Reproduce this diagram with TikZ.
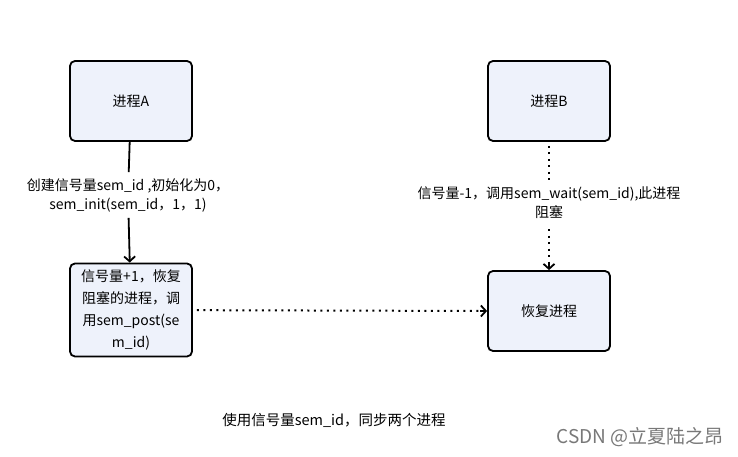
\documentclass[tikz,border=0pt]{standalone}
\usepackage{fontspec}
\setmainfont{Noto Sans CJK SC}
\usepackage{xcolor}
\usepackage{tikz}
\usetikzlibrary{arrows.meta}
\usetikzlibrary{positioning}
\definecolor{boxfill}{RGB}{238,242,251}
\definecolor{mark}{RGB}{120,120,120}
\tikzset{>={Straight Barb[length=5pt,width=11pt]}}
\tikzstyle{proc} = [rectangle, rounded corners=5pt, draw=black, line width=1.8pt, fill=boxfill, align=center, font=\fontsize{14}{22}\selectfont]
\tikzstyle{note} = [draw=none, align=center, inner sep=6pt, font=\fontsize{14}{19}\selectfont]
\tikzstyle{dots} = [line width=2pt, dash pattern=on 2pt off 4.5pt, shorten <=4pt]

\begin{document}
\begin{tikzpicture}[x=1pt, y=1pt]
\useasboundingbox (0,0) rectangle (738,457);
\node [proc, minimum width=122pt, minimum height=80pt] (A) at (131, 356) {进程A};
\node [proc, minimum width=122pt, minimum height=93pt, inner sep=1pt] (C) at (131, 147) {信号量+1，恢复\\阻塞的进程，调\\用sem\_post(se\\m\_id)};
\node [proc, minimum width=122pt, minimum height=80pt] (B) at (549, 356) {进程B};
\node [proc, minimum width=122pt, minimum height=80pt] (D) at (549, 146) {恢复进程};
\node [note] (la) at (128, 262) {创建信号量sem\_id ,初始化为0，\\sem\_init(sem\_id，1，1)};
\node [note] (lb) at (549, 254) {信号量-1，调用sem\_wait(sem\_id),此进程\\阻塞};
\draw [line width=1.8pt] (A) to (la);
\draw [->, line width=1.8pt] (la) to (C);
\draw [dots] (B) to (lb);
\draw [dots] (lb) to ([yshift=5pt]D.north);
\draw [->, line width=1.8pt] ([yshift=7pt]D.north) to (D.north);
\draw [dots] (C) to ([xshift=-5pt]D.west);
\draw [->, line width=1.8pt] ([xshift=-7pt]D.west) to (D.west);
\node [draw=none, font=\fontsize{14.5}{16}\selectfont] (cap) at (334, 37) {使用信号量sem\_id，同步两个进程};
\node [draw=none, anchor=east, text=mark, font=\fontsize{19}{20}\selectfont] (src) at (727, 20) {CSDN @立夏陆之昂};
\end{tikzpicture}
\end{document}
